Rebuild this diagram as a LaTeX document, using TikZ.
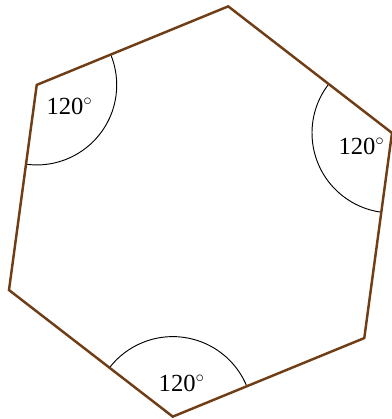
\documentclass[tikz,border=0pt]{standalone}
\usepackage{fontspec}
\setmainfont{Liberation Serif}
\usetikzlibrary{angles}

\definecolor{hexbrown}{RGB}{112,62,22}

\begin{document}
\begin{tikzpicture}[
        x=0.03cm, y=0.03cm,
        hex edge/.style={draw=hexbrown, line width=2.1pt, line join=miter},
        angle mark/.style={draw, line width=0.8pt, angle radius=2.4cm},
        angle label/.style={font=\fontsize{21}{24}\selectfont},
    ]
    \useasboundingbox (0,0) rectangle (392,419);

    % Corners of the hexagon
    \coordinate (centre) at (200.5,207.5);
    \foreach \k in {0,...,5} {
        \path (centre) ++(22.3+60*\k:207) coordinate (v\k);
    }

    % Angle arcs
    \pic[angle mark] {angle = v1--v0--v5};  % right
    \pic[angle mark] {angle = v3--v2--v1};  % top left
    \pic[angle mark] {angle = v5--v4--v3};  % bottom

    % Hexagon
    \draw[hex edge] (v0) -- (v1) -- (v2) -- (v3) -- (v4) -- (v5) -- cycle;

    % Angle labels
    \node[angle label] (label right) at (361.5,273) {120$^\circ$};
    \node[angle label] (label left) at (69.5,313) {120$^\circ$};
    \node[angle label] (label bottom) at (181.7,36) {120$^\circ$};

\end{tikzpicture}
\end{document}
